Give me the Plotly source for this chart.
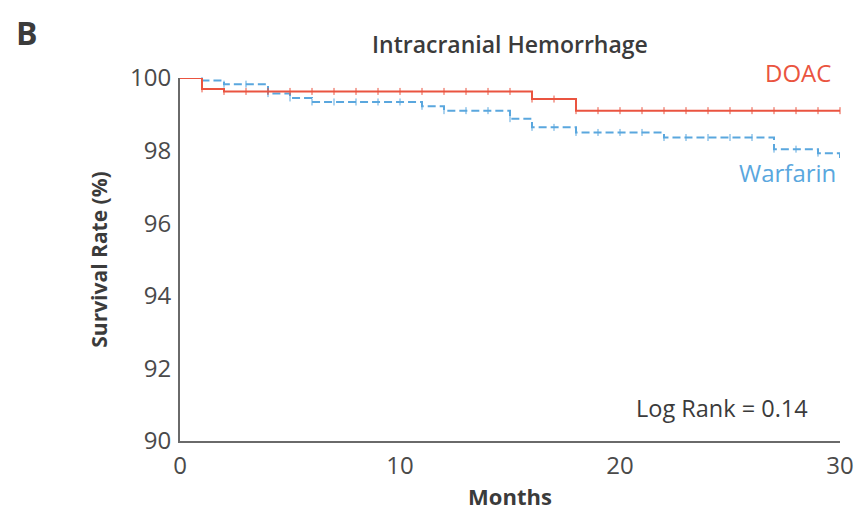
import numpy as np
import plotly.graph_objects as go

# Kaplan-Meier step data (months, survival %)
months_doac = [0, 1, 2, 16, 18, 30]
surv_doac = [100.0, 99.70, 99.63, 99.42, 99.10, 99.10]

months_warf = [0, 1, 2, 4, 5, 6, 11, 12, 15, 16, 18, 22, 27, 29, 30]
surv_warf = [100.0, 99.93, 99.83, 99.57, 99.45, 99.34, 99.22, 99.10,
             98.88, 98.64, 98.50, 98.36, 98.04, 97.93, 97.70]

censor_doac = list(range(1, 31))
censor_warf = list(range(1, 30))

x_ticks = [0, 10, 20, 30]
y_ticks = [90, 92, 94, 96, 98, 100]

RED = "#ea5440"
BLUE = "#5aa7de"
TXT = "#3b3b3b"
FONT = "Open Sans"

L, R, T, B = 180, 18, 78, 70
PW, PH = 858 - L - R, 511 - T - B


def step_at(times, surv, t):
    idx = np.searchsorted(np.array(times), t, side="right") - 1
    return [surv[i] for i in idx]


def px(xp):
    return (xp - L) / PW


def py(yp):
    return 1 - (yp - T) / PH


fig = go.Figure()
fig.add_trace(go.Scatter(x=months_warf, y=surv_warf, mode="lines", line_shape="hv",
                         line=dict(color=BLUE, width=2, dash="8px,4px"),
                         cliponaxis=False, showlegend=False, hoverinfo="skip"))
fig.add_trace(go.Scatter(x=censor_warf, y=step_at(months_warf, surv_warf, censor_warf),
                         mode="markers", marker=dict(symbol="line-ns", size=5,
                                                     line=dict(color=BLUE, width=1)),
                         cliponaxis=False, showlegend=False, hoverinfo="skip"))
fig.add_trace(go.Scatter(x=months_doac, y=surv_doac, mode="lines", line_shape="hv",
                         line=dict(color=RED, width=2),
                         cliponaxis=False, showlegend=False, hoverinfo="skip"))
fig.add_trace(go.Scatter(x=censor_doac, y=step_at(months_doac, surv_doac, censor_doac),
                         mode="markers", marker=dict(symbol="line-ns", size=5,
                                                     line=dict(color=RED, width=1)),
                         cliponaxis=False, showlegend=False, hoverinfo="skip"))

fig.update_layout(
    width=858, height=511,
    margin=dict(l=L, r=R, t=T, b=B),
    plot_bgcolor="white", paper_bgcolor="white",
    font=dict(family=FONT, color=TXT),
    xaxis=dict(range=[0, 30], tickvals=x_ticks, showgrid=False, zeroline=False,
               showline=True, linecolor="#6a6a6a", linewidth=2, ticks="",
               automargin=False, ticklabelstandoff=2,
               tickfont=dict(size=24, color="#4a4a4a"),
               title=dict(text="<b>Months</b>", font=dict(size=22, color=TXT), standoff=10)),
    yaxis=dict(range=[90, 100], tickvals=y_ticks, showgrid=False, zeroline=False,
               showline=True, linecolor="#6a6a6a", linewidth=2, ticks="",
               automargin=False, ticklabelstandoff=2,
               tickfont=dict(size=24, color="#4a4a4a"),
               title=dict(text="<b>Survival Rate (%)</b>", font=dict(size=21, color=TXT), standoff=17)),
    annotations=[
        dict(text="<b>B</b>", xref="paper", yref="paper", x=px(14), y=py(32),
             xanchor="left", yanchor="middle", showarrow=False,
             font=dict(size=32, color=TXT)),
        dict(text="<span style='font-weight:600'>Intracranial Hemorrhage</span>",
             xref="paper", yref="paper", x=px(510), y=py(44),
             xanchor="center", yanchor="middle", showarrow=False,
             font=dict(size=23, color=TXT)),
        dict(text="DOAC", xref="paper", yref="paper", x=px(833), y=py(72),
             xanchor="right", yanchor="middle",
             showarrow=False, font=dict(size=24, color=RED)),
        dict(text="Warfarin", xref="paper", yref="paper", x=px(838), y=py(172),
             xanchor="right", yanchor="middle",
             showarrow=False, font=dict(size=24, color=BLUE)),
        dict(text="Log Rank = 0.14", xref="paper", yref="paper", x=px(810), y=py(408),
             xanchor="right", yanchor="middle",
             showarrow=False, font=dict(size=23.5, color=TXT)),
    ],
)

fig.write_html("out.html", config={"displayModeBar": False},
               post_script="document.body.style.margin='0';document.body.style.overflow='hidden';")
